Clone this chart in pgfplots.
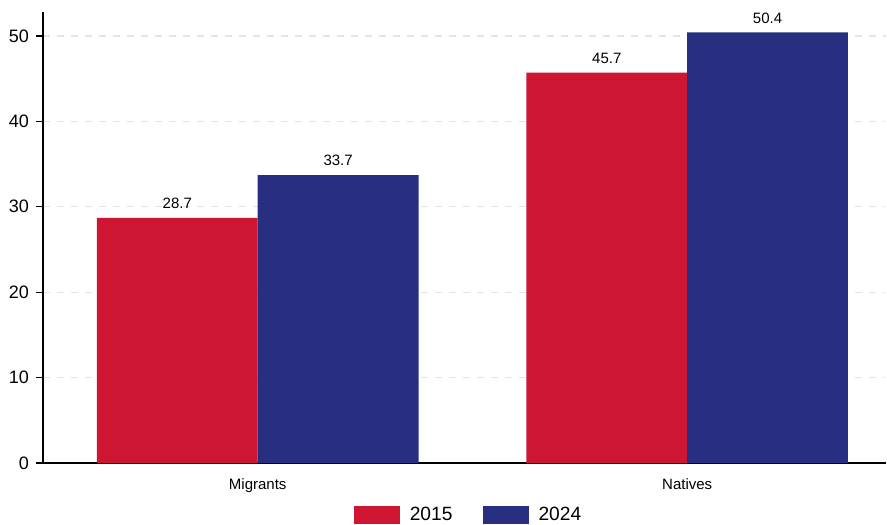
\documentclass[border=0pt]{standalone}
\usepackage{pgfplots}
\pgfplotsset{compat=1.18}
\usepackage{fontspec}
\setmainfont{Liberation Sans}
\definecolor{barred}{RGB}{206,21,49}
\definecolor{barblue}{RGB}{40,47,128}
\definecolor{gridgray}{RGB}{228,228,228}

\begin{document}
\begin{tikzpicture}
  \useasboundingbox (0,0) rectangle (443.5pt,262pt);
  \begin{axis}[
      at={(21.5pt,30.5pt)}, anchor=south west,
      scale only axis, width=421.5pt, height=225.5pt,
      ybar=0pt, bar width=0.3744,
      xmin=-0.5, xmax=1.463, ymin=0, ymax=52.8,
      axis x line*=bottom, axis y line*=left,
      axis line style={black, line width=0.6pt},
      xtick={0,1}, xticklabels={Migrants,Natives},
      x tick label style={font=\fontsize{7.5}{9}\selectfont, yshift=-1pt},
      xtick style={draw=none},
      ytick={0,10,...,50},
      y tick label style={font=\fontsize{9}{10}\selectfont},
      ytick style={black, line width=0.6pt},
      tick align=outside, major tick length=3.5pt,
      /pgf/number format/assume math mode=true,
      ymajorgrids, grid style={gridgray, dash pattern=on 3.5pt off 3.5pt, line width=0.6pt},
      nodes near coords,
      nodes near coords style={font=\fontsize{7.5}{9}\selectfont, /pgf/number format/fixed, /pgf/number format/fixed zerofill, /pgf/number format/precision=1, yshift=1pt},
      legend columns=2,
      legend style={at={(0.5,-0.088)}, anchor=north, draw=none, inner sep=0pt,
        xshift=2.5pt,
        font=\fontsize{9.6}{10}\selectfont,
        /tikz/every odd column/.append style={column sep=3pt},
        /tikz/every even column/.append style={column sep=13pt}},
      legend image code/.code={\fill[#1] (0pt,-4.5pt) rectangle (23pt,4.5pt);},
    ]
    \addplot[fill=barred, draw=none] coordinates {(0,28.7) (1,45.7)};
    \addplot[fill=barblue, draw=none] coordinates {(0,33.7) (1,50.4)};
    \legend{2015,2024}
  \end{axis}
\end{tikzpicture}
\end{document}
